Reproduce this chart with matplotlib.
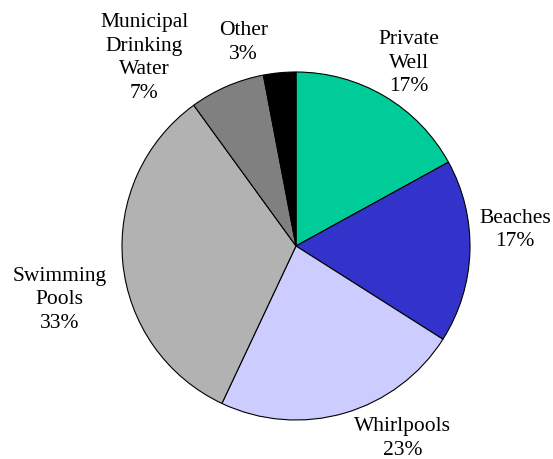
import matplotlib.pyplot as plt

# data
categories = ['Private\nWell', 'Beaches', 'Whirlpools', 'Swimming\nPools',
              'Municipal\nDrinking\nWater', 'Other']
shares = [17, 17, 23, 33, 7, 3]
colors = ['#00CC99', '#3333CC', '#CCCCFF', '#B2B2B2', '#808080', '#000000']

# label anchor positions (figure fraction)
label_pos = [(0.74, 0.863), (0.931, 0.50), (0.728, 0.047), (0.108, 0.348),
             (0.261, 0.874), (0.44, 0.908)]

plt.rcParams['font.family'] = ['Liberation Serif', 'DejaVu Serif']

fig = plt.figure(figsize=(5.53, 4.60), dpi=100)
ax = fig.add_axes([0, 0, 1, 1])

wedges, _ = ax.pie(shares, colors=colors, startangle=90, counterclock=False,
                   center=(296, 213), radius=174,
                   wedgeprops=dict(edgecolor='black', linewidth=0.8))

# pie resets the limits, so set pixel-like limits afterwards
ax.set_xlim(0, 553)
ax.set_ylim(0, 460)
ax.set_aspect('equal')
ax.axis('off')

for name, val, (x, y) in zip(categories, shares, label_pos):
    fig.text(x, y, f'{name}\n{val}%', ha='center', va='center',
             fontsize=15.5, linespacing=1.35)

fig.savefig('out.png', dpi=100)
